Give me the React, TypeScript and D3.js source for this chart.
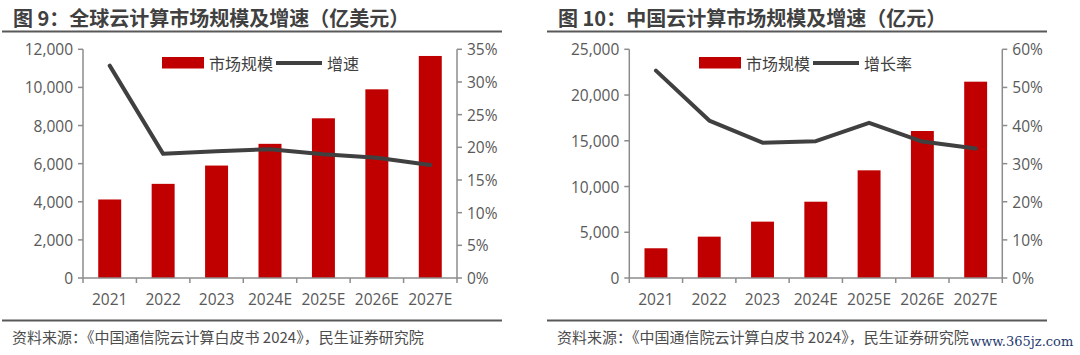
import React from "react";
import * as d3 from "d3";

const categories = ["2021", "2022", "2023", "2024E", "2025E", "2026E", "2027E"];
const globalSize = [4120, 4940, 5900, 7040, 8380, 9900, 11650];
const globalGrowth = [32.5, 19.0, 19.4, 19.7, 18.95, 18.4, 17.3];
const chinaSize = [3250, 4520, 6160, 8340, 11770, 16070, 21460];
const chinaGrowth = [54.4, 41.3, 35.5, 35.9, 40.7, 35.8, 34.0];

const leftTicksGlobal = [0, 2000, 4000, 6000, 8000, 10000, 12000];
const rightTicksGlobal = [0, 5, 10, 15, 20, 25, 30, 35];
const leftTicksChina = [0, 5000, 10000, 15000, 20000, 25000];
const rightTicksChina = [0, 10, 20, 30, 40, 50, 60];

const BAR = "#C00000";
const LINE = "#404040";
const AXIS = "#8c8c8c";
const TEXT = "#595959";
const DARK = "#404040";
const NUM_FONT = "'Open Sans', 'Noto Sans CJK SC', sans-serif";
const CJK_FONT = "'Noto Sans CJK SC', sans-serif";

type ChartProps = {
  title: string;
  titleX: number;
  ruleX1: number;
  ruleX2: number;
  x0: number;
  x1: number;
  sizes: number[];
  growth: number[];
  leftMax: number;
  rightMax: number;
  leftTicks: number[];
  rightTicks: number[];
  legendX: number;
  lineLabel: string;
  sourceX: number;
};

function Chart(p: ChartProps) {
  const top = 49.3;
  const bottom = 278;
  const x = d3.scaleBand<string>().domain(categories).range([p.x0, p.x1]).paddingInner(0).paddingOuter(0);
  const yL = d3.scaleLinear().domain([0, p.leftMax]).range([bottom, top]);
  const yR = d3.scaleLinear().domain([0, p.rightMax]).range([bottom, top]);
  const bw = x.bandwidth() * 0.43;
  const fmt = d3.format(",");
  const line = d3
    .line<number>()
    .x((_, i) => (x(categories[i]) as number) + x.bandwidth() / 2)
    .y((d) => yR(d))
    .curve(d3.curveLinear);
  const boundaries = d3.range(categories.length + 1).map((i) => p.x0 + i * x.bandwidth());
  const lx = p.legendX;
  return (
    <g>
      <text x={p.titleX} y={17} dominantBaseline="central" fontFamily={CJK_FONT} fontWeight="bold" fontSize={20} fill={DARK}>
        {p.title}
      </text>
      <line x1={p.ruleX1} x2={p.ruleX2} y1={31.5} y2={31.5} stroke="#595959" strokeWidth={2} />
      {categories.map((c, i) => (
        <rect key={c} x={(x(c) as number) + x.bandwidth() / 2 - bw / 2} y={yL(p.sizes[i])} width={bw} height={bottom - yL(p.sizes[i])} fill={BAR} />
      ))}
      <path d={line(p.growth) || ""} fill="none" stroke={LINE} strokeWidth={4} strokeLinejoin="round" strokeLinecap="round" />
      <line x1={p.x0} x2={p.x0} y1={top} y2={bottom} stroke={AXIS} strokeWidth={1.5} />
      <line x1={p.x1} x2={p.x1} y1={top} y2={bottom} stroke={AXIS} strokeWidth={1.5} />
      <line x1={p.x0} x2={p.x1} y1={bottom} y2={bottom} stroke={AXIS} strokeWidth={1.5} />
      {p.leftTicks.map((t) => (
        <g key={"l" + t}>
          <line x1={p.x0 - 5} x2={p.x0} y1={yL(t)} y2={yL(t)} stroke={AXIS} strokeWidth={1.5} />
          <text x={p.x0 - 10} y={yL(t)} textAnchor="end" dominantBaseline="central" fontFamily={NUM_FONT} fontSize={15.5} fill={TEXT}>
            {fmt(t)}
          </text>
        </g>
      ))}
      {p.rightTicks.map((t) => (
        <g key={"r" + t}>
          <line x1={p.x1} x2={p.x1 + 5} y1={yR(t)} y2={yR(t)} stroke={AXIS} strokeWidth={1.5} />
          <text x={p.x1 + 10} y={yR(t)} textAnchor="start" dominantBaseline="central" fontFamily={NUM_FONT} fontSize={15.5} fill={TEXT}>
            {t + "%"}
          </text>
        </g>
      ))}
      {boundaries.map((bx, i) => (
        <line key={"b" + i} x1={bx} x2={bx} y1={bottom} y2={bottom + 5} stroke={AXIS} strokeWidth={1.5} />
      ))}
      {categories.map((c) => (
        <text key={"x" + c} x={(x(c) as number) + x.bandwidth() / 2} y={299} textAnchor="middle" dominantBaseline="central" fontFamily={NUM_FONT} fontSize={15.5} fill={TEXT}>
          {c}
        </text>
      ))}
      <rect x={lx} y={57} width={42} height={11.5} fill={BAR} />
      <text x={lx + 47} y={63} dominantBaseline="central" fontFamily={CJK_FONT} fontSize={16} fill={DARK}>
        市场规模
      </text>
      <line x1={lx + 114} x2={lx + 160} y1={63} y2={63} stroke={LINE} strokeWidth={4} />
      <text x={lx + 165} y={63} dominantBaseline="central" fontFamily={CJK_FONT} fontSize={16} fill={DARK}>
        {p.lineLabel}
      </text>
      <line x1={p.ruleX1} x2={p.ruleX2} y1={320.5} y2={320.5} stroke="#595959" strokeWidth={2} />
      <text x={p.sourceX} y={336.5} dominantBaseline="central" fontFamily={CJK_FONT} fontSize={15} fill="#4d4d4d">
        资料来源：《中国通信院云计算白皮书 2024》，民生证券研究院
      </text>
    </g>
  );
}

export default function App() {
  return (
    <svg width={1080} height={355} style={{ position: "absolute", left: 0, top: 0, background: "#fff" }}>
      <rect x={0} y={0} width={1080} height={355} fill="#fff" />
      <Chart
        title="图 9：全球云计算市场规模及增速（亿美元）"
        titleX={13}
        ruleX1={2}
        ruleX2={502}
        x0={83}
        x1={457}
        sizes={globalSize}
        growth={globalGrowth}
        leftMax={12000}
        rightMax={35}
        leftTicks={leftTicksGlobal}
        rightTicks={rightTicksGlobal}
        legendX={162}
        lineLabel="增速"
        sourceX={12}
      />
      <Chart
        title="图 10：中国云计算市场规模及增速（亿元）"
        titleX={558}
        ruleX1={547}
        ruleX2={1047}
        x0={629.3}
        x1={1002.3}
        sizes={chinaSize}
        growth={chinaGrowth}
        leftMax={25000}
        rightMax={60}
        leftTicks={leftTicksChina}
        rightTicks={rightTicksChina}
        legendX={699}
        lineLabel="增长率"
        sourceX={557}
      />
      <text x={970} y={341} dominantBaseline="central" fontFamily="'DejaVu Serif', serif" fontSize={13} fill="#1f3a6e">
        www.365jz.com
      </text>
    </svg>
  );
}
